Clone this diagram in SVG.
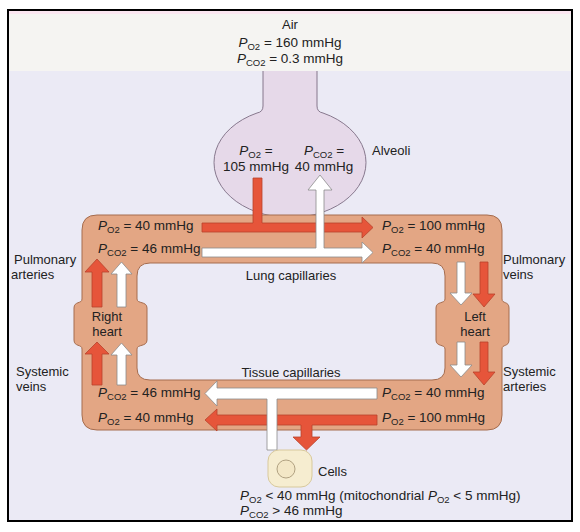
<svg xmlns="http://www.w3.org/2000/svg" width="580" height="532" viewBox="0 0 580 532">
<style>
.t{font-family:"Liberation Sans",Arial,sans-serif;font-size:13px;fill:#222}
.v{font-size:13.5px}
.m{text-anchor:middle}
.i{font-style:italic}
.s{font-size:9.5px}
.red{fill:#e6553a;stroke:#b8432c;stroke-width:0.8}
.wht{fill:#ffffff;stroke:#8c8c8c;stroke-width:0.8}
</style>
<rect width="580" height="532" fill="#ffffff"/>
<g id="frame">
  <rect x="7" y="9" width="566" height="513" fill="#000"/>
  <rect x="9" y="11" width="562" height="509" fill="#ebeaf5"/>
  <rect x="9" y="11" width="562" height="60" fill="#f5f4f2"/>
  <rect x="9" y="11" width="562" height="3" fill="#fbe6f1"/>
</g>
<g id="air">
  <text class="t m" x="290" y="29">Air</text>
  <text class="t v m" x="290" y="47"><tspan class="i">P</tspan><tspan class="s" dy="3">O2</tspan><tspan dy="-3"> = 160 mmHg</tspan></text>
  <text class="t v m" x="290" y="63"><tspan class="i">P</tspan><tspan class="s" dy="3">CO2</tspan><tspan dy="-3"> = 0.3 mmHg</tspan></text>
</g>
<g id="alveoli">
  <path d="M263 71 V106 Q263 112 257 113 A76 55 0 1 0 323 113 Q317 112 317 106 V71" fill="#e6d9e9" stroke="#7c6c82" stroke-width="0.9"/>
  <text class="t v m" x="256" y="155"><tspan class="i">P</tspan><tspan class="s" dy="3">O2</tspan><tspan dy="-3"> =</tspan></text>
  <text class="t v m" x="256" y="171">105 mmHg</text>
  <text class="t v m" x="324" y="155"><tspan class="i">P</tspan><tspan class="s" dy="3">CO2</tspan><tspan dy="-3"> =</tspan></text>
  <text class="t v m" x="324" y="171">40 mmHg</text>
  <text class="t" x="372" y="155">Alveoli</text>
</g>
<g id="circulation">
  <path fill-rule="evenodd" fill="#e3a684" stroke="#a56c4e" stroke-width="1"
    d="M97 215 H487 Q502 215 502 230 V299 C502 304 509 301 509 308 V340 C509 347 502 344 502 349 V415 Q502 430 487 430 H97 Q82 430 82 415 V349 C82 344 74 347 74 340 V308 C74 301 82 304 82 299 V230 Q82 215 97 215 Z
       M150 263 H432 Q445 263 445 276 V299 C445 304 436 301 436 308 V340 C436 347 445 344 445 349 V368 Q445 380 432 380 H150 Q137 380 137 368 V349 C137 344 147 347 147 340 V308 C147 301 137 304 137 299 V276 Q137 263 150 263 Z"/>
</g>
<g id="connectors">
  <path class="red" d="M253 178 H262 V223 H362 V217 L373 227.5 L362 238 V232 H202 V223 H253 Z"/>
  <path class="wht" d="M202 248 H316 V190 H308 L320 175 L332 190 H324 V248 H362 V242 L373 252.5 L362 263 V257 H202 Z"/>
  <path class="red" d="M377 415 H217 V409 L205 420 L217 431 V425 H301 V437 H293 L306.5 450 L320 437 H312 V425 H377 Z"/>
  <path class="wht" d="M377 388 H217 V381 L205 393.5 L217 406 V399 H267 V450 H277 V399 H377 Z"/>
  <path class="red" d="M92 307 V272 H85 L97 259 L109 272 H102 V307 Z"/>
  <path class="wht" d="M117 307 V274 H111 L121.5 262 L132 274 H126 V307 Z"/>
  <path class="red" d="M92 385 V354 H85 L97 342 L109 354 H102 V385 Z"/>
  <path class="wht" d="M117 385 V355 H111 L121.5 343 L132 355 H126 V385 Z"/>
  <path class="wht" d="M457 262 V293 H450 L461 305 L472 293 H465 V262 Z"/>
  <path class="red" d="M480 262 V294 H473 L484 307 L495 294 H488 V262 Z"/>
  <path class="wht" d="M457 342 V365 H450 L461 377 L472 365 H465 V342 Z"/>
  <path class="red" d="M480 342 V372 H473 L484 385 L495 372 H488 V342 Z"/>
</g>
<g id="lung-labels">
  <text class="t v" x="98" y="230"><tspan class="i">P</tspan><tspan class="s" dy="3">O2</tspan><tspan dy="-3"> = 40 mmHg</tspan></text>
  <text class="t v" x="98" y="253"><tspan class="i">P</tspan><tspan class="s" dy="3">CO2</tspan><tspan dy="-3"> = 46 mmHg</tspan></text>
  <text class="t v" x="382" y="230"><tspan class="i">P</tspan><tspan class="s" dy="3">O2</tspan><tspan dy="-3"> = 100 mmHg</tspan></text>
  <text class="t v" x="382" y="253"><tspan class="i">P</tspan><tspan class="s" dy="3">CO2</tspan><tspan dy="-3"> = 40 mmHg</tspan></text>
  <text class="t m" x="291" y="280">Lung capillaries</text>
</g>
<g id="tissue-labels">
  <text class="t m" x="291" y="377">Tissue capillaries</text>
  <text class="t v" x="98" y="397"><tspan class="i">P</tspan><tspan class="s" dy="3">CO2</tspan><tspan dy="-3"> = 46 mmHg</tspan></text>
  <text class="t v" x="98" y="422"><tspan class="i">P</tspan><tspan class="s" dy="3">O2</tspan><tspan dy="-3"> = 40 mmHg</tspan></text>
  <text class="t v" x="382" y="397"><tspan class="i">P</tspan><tspan class="s" dy="3">CO2</tspan><tspan dy="-3"> = 40 mmHg</tspan></text>
  <text class="t v" x="382" y="422"><tspan class="i">P</tspan><tspan class="s" dy="3">O2</tspan><tspan dy="-3"> = 100 mmHg</tspan></text>
</g>
<g id="right-heart">
  <text class="t m" x="107" y="321">Right</text>
  <text class="t m" x="107" y="336">heart</text>
</g>
<g id="left-heart">
  <text class="t m" x="475" y="321">Left</text>
  <text class="t m" x="475" y="336">heart</text>
</g>
<g id="vessel-labels">
  <text class="t" x="14" y="264">Pulmonary</text>
  <text class="t" x="11" y="279">arteries</text>
  <text class="t" x="16" y="376">Systemic</text>
  <text class="t" x="16" y="391">veins</text>
  <text class="t" x="503" y="264">Pulmonary</text>
  <text class="t" x="503" y="279">veins</text>
  <text class="t" x="503" y="376">Systemic</text>
  <text class="t" x="503" y="391">arteries</text>
</g>
<g id="cells">
  <rect x="268" y="450" width="44" height="37" rx="11" fill="#f6edd0" stroke="#d8c99c" stroke-width="1"/>
  <circle cx="286" cy="469" r="9" fill="#f3e7c6" stroke="#a89878" stroke-width="0.9"/>
  <text class="t" x="318" y="476">Cells</text>
  <text class="t v" x="240" y="500"><tspan class="i">P</tspan><tspan class="s" dy="3">O2</tspan><tspan dy="-3"> &lt; 40 mmHg (mitochondrial </tspan><tspan class="i">P</tspan><tspan class="s" dy="3">O2</tspan><tspan dy="-3"> &lt; 5 mmHg)</tspan></text>
  <text class="t v" x="240" y="515"><tspan class="i">P</tspan><tspan class="s" dy="3">CO2</tspan><tspan dy="-3"> &gt; 46 mmHg</tspan></text>
</g>
</svg>
